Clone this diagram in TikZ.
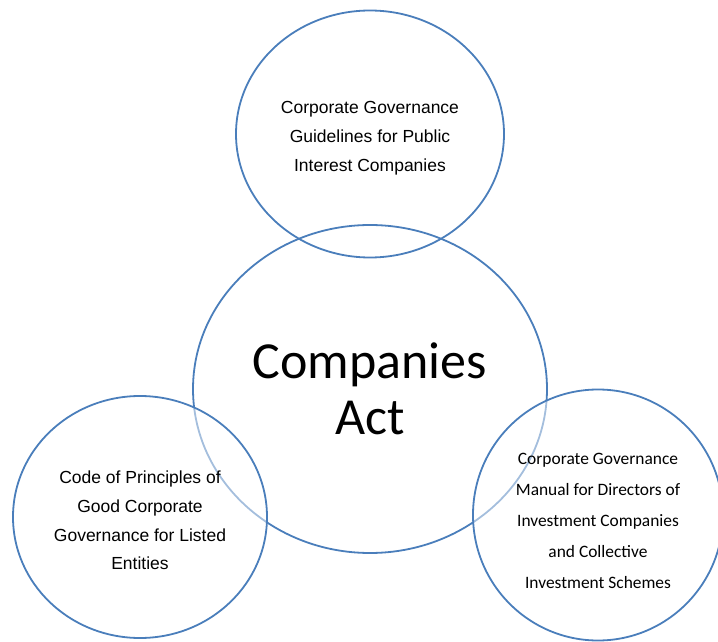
\documentclass[tikz,border=0pt]{standalone}
\usepackage{fontspec}
\setmainfont{Liberation Sans}
\newfontfamily\calibri{Carlito}
\usetikzlibrary{shapes.geometric}
\definecolor{ringblue}{RGB}{74,126,187}

\begin{document}
\begin{tikzpicture}[x=1pt,y=-1pt]
\tikzstyle{every node}=[inner sep=0pt, align=center, text=black]
\tikzstyle{ring}=[ellipse, draw=ringblue, line width=1.8pt]
\tikzstyle{veil}=[fill=white, fill opacity=0.5]
\tikzstyle{arial}=[font=\fontsize{17.5}{28.8}\selectfont]
\tikzstyle{calib}=[font=\calibri\fontsize{17.4}{31}\selectfont]
\clip (0,0) rectangle (718,642);
% the four rings
\draw (370,134) node (guide) [ring, minimum width=268pt, minimum height=247pt] {};
\draw (370,389) node (act) [ring, minimum width=354pt, minimum height=328pt,
  font=\calibri\fontsize{52}{56}\selectfont] {Companies\\Act};
\draw (140,517) node (code) [ring, veil, minimum width=254pt, minimum height=242pt] {};
\draw (598,515) node (manual) [ring, veil, minimum width=250pt, minimum height=251pt] {};
% texts of the outer rings
\draw (370,138) node (guidetext) [arial]
  {Corporate Governance\\Guidelines for Public\\Interest Companies};
\draw (140,520.5) node (codetext) [arial]
  {Code of Principles of\\Good Corporate\\Governance for Listed\\Entities};
\draw (598,521) node (manualtext) [calib]
  {Corporate Governance\\Manual for Directors of\\Investment Companies\\and Collective\\Investment Schemes};
\end{tikzpicture}
\end{document}
